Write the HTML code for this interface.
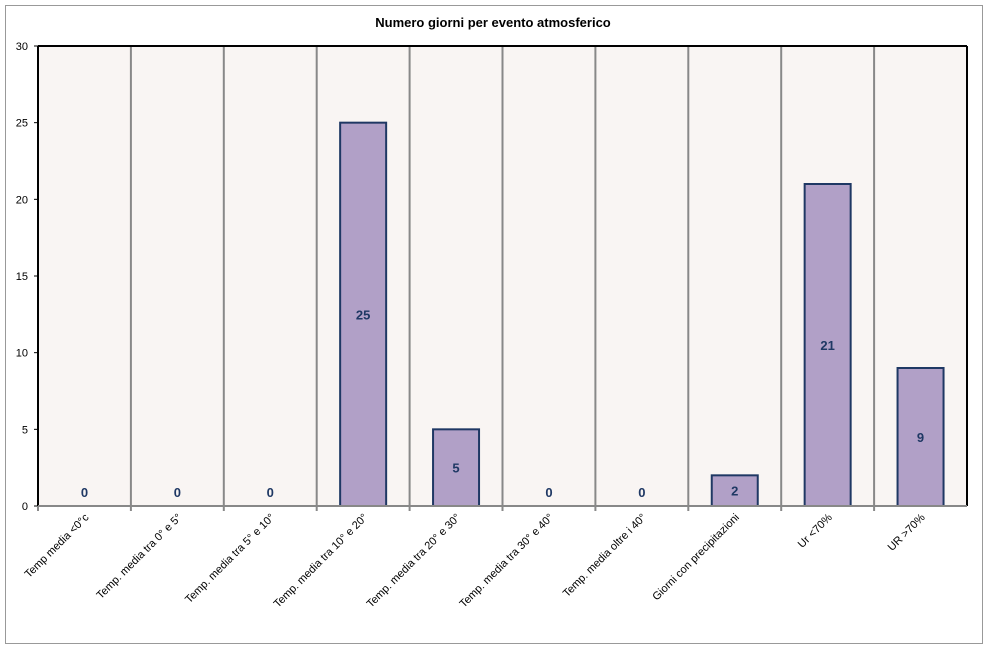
<!DOCTYPE html>
<html><head><meta charset="utf-8"><style>
body{margin:0;background:#fff;font-family:"Liberation Sans","DejaVu Sans",sans-serif;}
</style></head><body>
<svg width="986" height="647" xmlns="http://www.w3.org/2000/svg">
<rect x="5.5" y="5.5" width="977" height="638" fill="#fff" stroke="#999"/>
<text x="493" y="27" text-anchor="middle" font-size="13" font-weight="bold" fill="#000">Numero giorni per evento atmosferico</text>
<rect x="38" y="46" width="929" height="460" fill="#f9f5f3"/>
<g id="grid"></g>
<g id="bars"></g>
<g id="axes"></g>
</svg>
<script>
const categories=["Temp media <0°c","Temp. media tra 0° e 5°","Temp. media tra 5° e 10°","Temp. media tra 10° e 20°","Temp. media tra 20° e 30°","Temp. media tra 30° e 40°","Temp. media oltre i 40°","Giorni con precipitazioni","Ur <70%","UR >70%"];
const values=[0,0,0,25,5,0,0,2,21,9];
const yTicks=[0,5,10,15,20,25,30];
const NS="http://www.w3.org/2000/svg";
const L=38,R=967,T=46,B=506,yMax=30;
const bw=(R-L)/categories.length;
const y=v=>B-(v/yMax)*(B-T);
const xc=i=>L+bw*(i+0.5);
function mk(t,a,p){const e=document.createElementNS(NS,t);for(const k in a)e.setAttribute(k,a[k]);p.appendChild(e);return e;}
const grid=document.getElementById('grid'),bars=document.getElementById('bars'),axes=document.getElementById('axes');
for(let i=1;i<categories.length;i++){
 const g=mk('line',{x1:L+bw*i,x2:L+bw*i,y1:T,y2:B,stroke:'#888','stroke-width':2},grid);
 
 
}
values.forEach((v,i)=>{
 if(v>0){
  const r=mk('rect',{x:xc(i)-23,y:y(v),width:46,height:B-y(v),fill:'#b1a0c7',stroke:'#1f3864','stroke-width':2},bars);
  
  
 }
 const ty=v>0?(y(v)+B)/2+5:B-9;
 const t=mk('text',{x:xc(i),y:ty,'text-anchor':'middle','font-size':13,'font-weight':'bold',fill:'#1f3864'},bars);
 t.textContent=v;
 
 
});
mk('line',{x1:L,x2:R,y1:T,y2:T,stroke:'#000','stroke-width':2},axes);
mk('line',{x1:R,x2:R,y1:T,y2:B,stroke:'#000','stroke-width':2},axes);
mk('line',{x1:L,x2:L,y1:T,y2:B,stroke:'#000','stroke-width':2},axes);
mk('line',{x1:L,x2:R,y1:B,y2:B,stroke:'#888','stroke-width':2},axes);
yTicks.forEach(v=>{
 mk('line',{x1:L-4,x2:L,y1:y(v),y2:y(v),stroke:'#000'},axes);
 const t=mk('text',{x:L-10,y:y(v)+4,'text-anchor':'end','font-size':11,fill:'#000'},axes);
 t.textContent=v;
 
 
});
categories.forEach((c,i)=>{
 mk('line',{x1:L+bw*i,x2:L+bw*i,y1:B,y2:B+5,stroke:'#888','stroke-width':2},axes);
 const t=mk('text',{x:xc(i)+5,y:B+12,'text-anchor':'end','font-size':11,fill:'#000',transform:`rotate(-45 ${xc(i)+5} ${B+12})`},axes);
 t.textContent=c;
 
 
});
</script>
</body></html>
